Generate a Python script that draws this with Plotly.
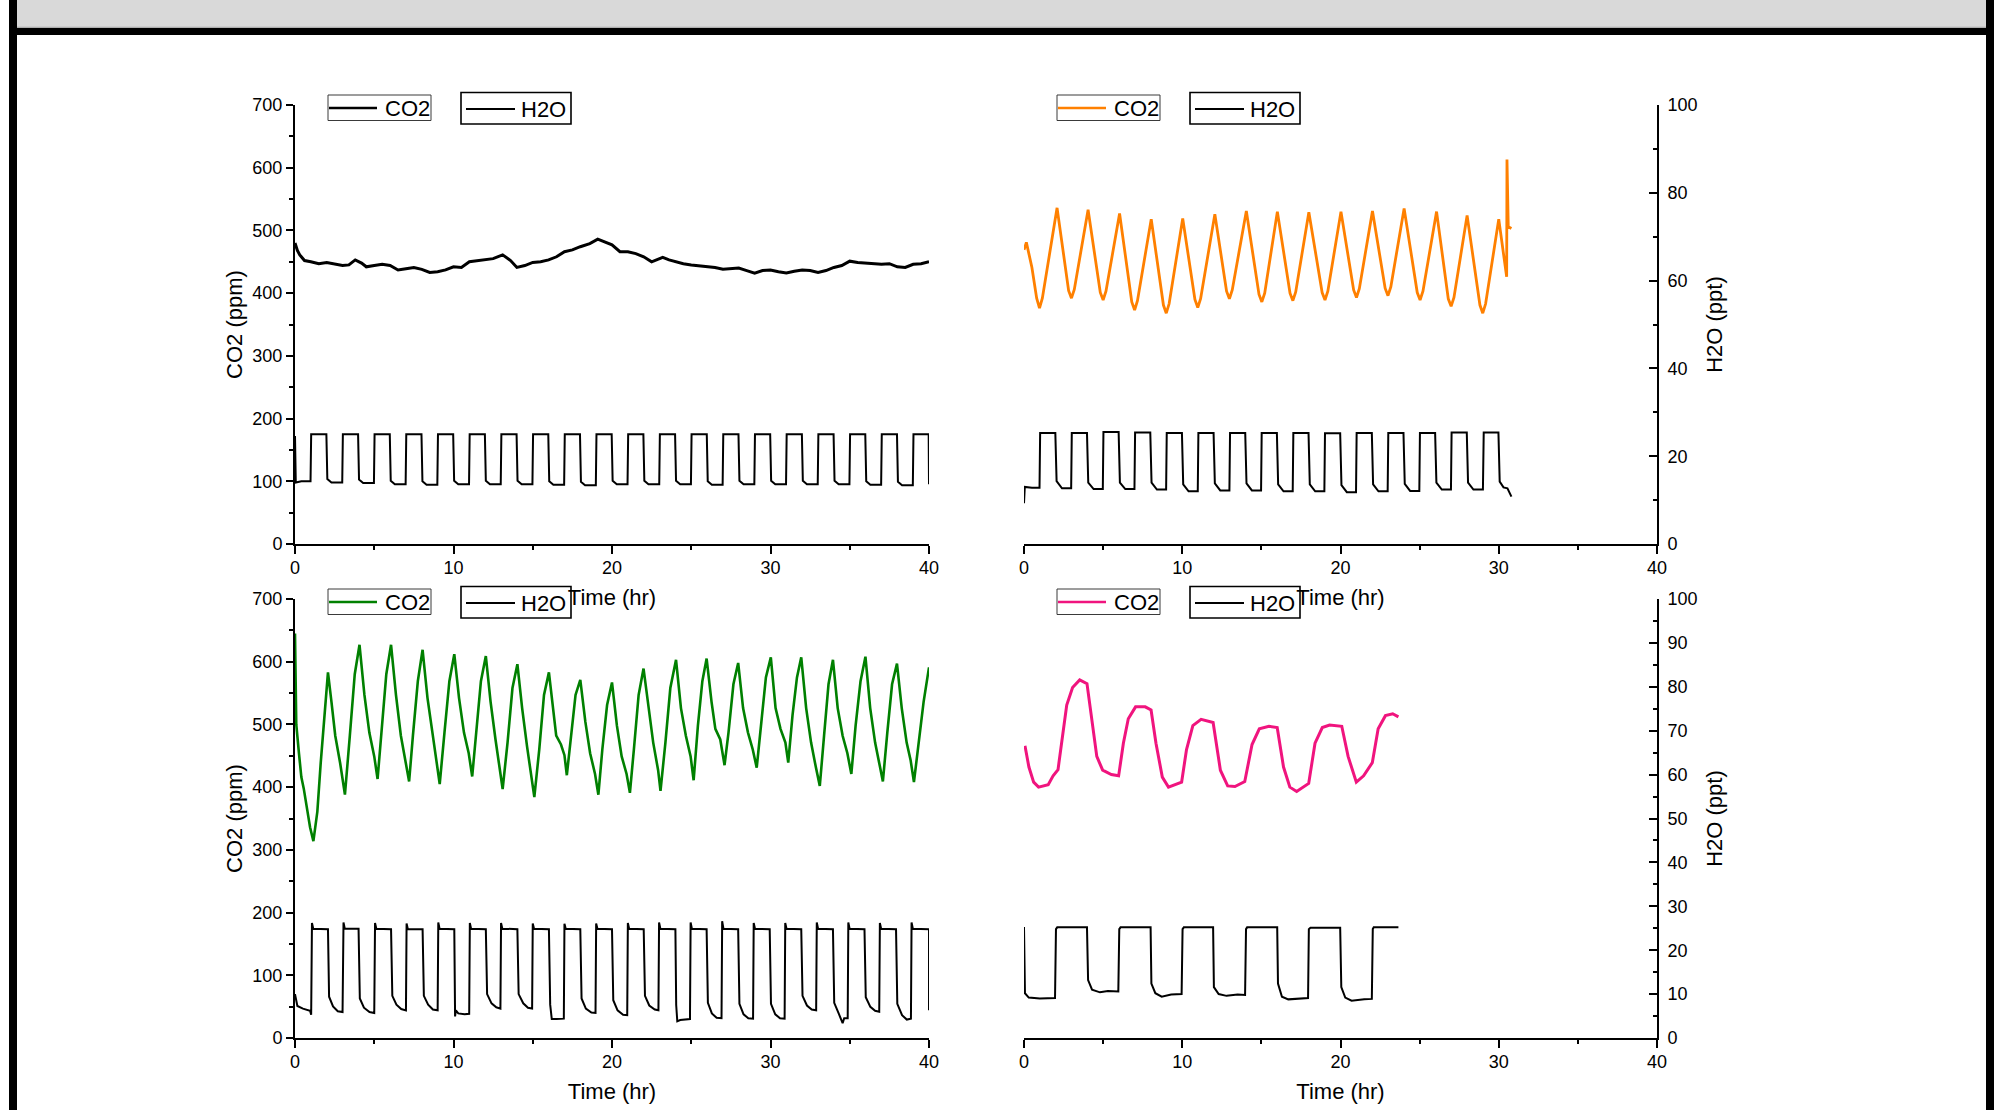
import plotly.graph_objects as go

W, H = 2010, 1110

# ---------------- tick labels ----------------
time_ticks = [0, 10, 20, 30, 40]
co2_ticks = [0, 100, 200, 300, 400, 500, 600, 700]
h2o_ticks_top = [0, 20, 40, 60, 80, 100]
h2o_ticks_bot = [0, 10, 20, 30, 40, 50, 60, 70, 80, 90, 100]

# ---------------- panel A (top-left) ----------------
a_co2_t = [0, 0.15, 0.3, 0.6, 1.0, 1.5, 2.0, 2.5, 3.0, 3.4, 3.8, 4.2, 4.5, 5.0, 5.5, 6.0, 6.5,
           7.0, 7.5, 8.0, 8.5, 9.0, 9.5, 10.0, 10.5, 11.0, 11.5, 12.0, 12.5, 13.1, 13.6, 14.0,
           14.5, 15.0, 15.5, 16.0, 16.5, 17.0, 17.5, 18.0, 18.6, 19.1, 19.6, 20.0, 20.5, 21.0,
           21.5, 22.0, 22.5, 23.2, 23.6, 24.0, 24.5, 25.0, 25.5, 26.0, 26.5, 27.0, 27.5, 28.0,
           28.5, 29.0, 29.5, 30.0, 30.5, 31.0, 31.5, 32.0, 32.5, 33.0, 33.5, 34.0, 34.5, 35.0,
           35.5, 36.0, 36.5, 37.0, 37.5, 38.0, 38.5, 39.0, 39.5, 40.0]
a_co2 = [480, 468, 461, 452, 450, 447, 449, 446, 444, 445, 453, 448, 442, 444, 446, 444, 437,
         439, 441, 438, 433, 434, 437, 442, 441, 450, 452, 454, 455, 461, 452, 441,
         444, 449, 450, 453, 458, 466, 469, 474, 479, 486, 481, 477, 466, 466,
         463, 458, 450, 457, 453, 450, 447, 445, 444, 443, 441, 438, 439, 440,
         436, 432, 436, 437, 434, 432, 435, 437, 436, 433, 436, 441, 444, 451,
         449, 448, 447, 446, 447, 442, 441, 446, 447, 450]

a_h2o_t = [0, 0.05, 0.4,
           0.98, 1.02, 1.98, 2.04, 2.3,
           2.98, 3.02, 3.98, 4.04, 4.3,
           4.98, 5.02, 5.98, 6.04, 6.3,
           6.98, 7.02, 7.98, 8.04, 8.3,
           8.98, 9.02, 9.98, 10.04, 10.3,
           10.98, 11.02, 11.98, 12.04, 12.3,
           12.98, 13.02, 13.98, 14.04, 14.3,
           14.98, 15.02, 15.98, 16.04, 16.3,
           16.98, 17.02, 17.98, 18.04, 18.3,
           18.98, 19.02, 19.98, 20.04, 20.3,
           20.98, 21.02, 21.98, 22.04, 22.3,
           22.98, 23.02, 23.98, 24.04, 24.3,
           24.98, 25.02, 25.98, 26.04, 26.3,
           26.98, 27.02, 27.98, 28.04, 28.3,
           28.98, 29.02, 29.98, 30.04, 30.3,
           30.98, 31.02, 31.98, 32.04, 32.3,
           32.98, 33.02, 33.98, 34.04, 34.3,
           34.98, 35.02, 35.98, 36.04, 36.3,
           36.98, 37.02, 37.98, 38.04, 38.3,
           38.98, 39.02, 39.98, 40.0]
a_h2o = [24.6, 14.0, 14.3,
         14.3, 25.0, 25.0, 14.8, 14.0,
         14.0, 25.0, 25.0, 14.7, 13.9,
         13.9, 25.0, 25.0, 14.4, 13.6,
         13.6, 25.0, 25.0, 14.3, 13.5,
         13.5, 25.0, 25.0, 14.4, 13.6,
         13.6, 25.0, 25.0, 14.4, 13.6,
         13.6, 25.0, 25.0, 14.4, 13.6,
         13.6, 25.0, 25.0, 14.3, 13.5,
         13.5, 25.0, 25.0, 14.2, 13.4,
         13.4, 25.0, 25.0, 14.4, 13.6,
         13.6, 25.0, 25.0, 14.4, 13.6,
         13.6, 25.0, 25.0, 14.4, 13.6,
         13.6, 25.0, 25.0, 14.3, 13.5,
         13.5, 25.0, 25.0, 14.4, 13.6,
         13.6, 25.0, 25.0, 14.4, 13.6,
         13.6, 25.0, 25.0, 14.4, 13.6,
         13.6, 25.0, 25.0, 14.4, 13.6,
         13.6, 25.0, 25.0, 14.3, 13.5,
         13.5, 25.0, 25.0, 14.2, 13.4,
         13.4, 25.0, 25.0, 13.6]

# ---------------- panel B (top-right) ----------------
b_co2_t = [0, 0.15, 0.5, 0.8, 0.98, 1.16, 2.09, 2.82, 3.0, 3.18, 4.05, 4.82, 5.0, 5.18,
           6.04, 6.81, 6.99, 7.17, 8.04, 8.81, 8.99, 9.17, 10.03, 10.8, 10.98, 11.16,
           12.06, 12.8, 12.98, 13.16, 14.05, 14.85, 15.03, 15.21, 16.01, 16.81, 16.99, 17.17,
           18.0, 18.84, 19.02, 19.2, 20.03, 20.83, 21.01, 21.19, 22.02, 22.82, 23.0, 23.18,
           24.02, 24.85, 25.03, 25.21, 26.07, 26.81, 26.99, 27.17, 28.0, 28.81, 28.99, 29.17,
           30.0, 30.5, 30.52, 30.6, 30.8]
b_co2 = [469, 481, 441, 392, 376, 392, 536, 404, 392, 406, 533, 401, 389, 403,
         527, 386, 373, 388, 518, 381, 368, 383, 519, 390, 377, 391,
         526, 403, 391, 405, 531, 398, 386, 400, 530, 400, 388, 402,
         529, 401, 389, 403, 530, 405, 393, 407, 531, 408, 396, 410,
         535, 401, 389, 403, 530, 391, 379, 393, 524, 381, 368, 383,
         518, 426, 613, 506, 503]

b_h2o_t = [0, 0.05, 0.5,
           0.98, 1.02, 1.98, 2.06, 2.4,
           2.98, 3.02, 3.98, 4.06, 4.4,
           4.98, 5.02, 5.98, 6.06, 6.4,
           6.98, 7.02, 7.98, 8.06, 8.4,
           8.98, 9.02, 9.98, 10.06, 10.4,
           10.98, 11.02, 11.98, 12.06, 12.4,
           12.98, 13.02, 13.98, 14.06, 14.4,
           14.98, 15.02, 15.98, 16.06, 16.4,
           16.98, 17.02, 17.98, 18.06, 18.4,
           18.98, 19.02, 19.98, 20.06, 20.4,
           20.98, 21.02, 21.98, 22.06, 22.4,
           22.98, 23.02, 23.98, 24.06, 24.4,
           24.98, 25.02, 25.98, 26.06, 26.4,
           26.98, 27.02, 27.98, 28.06, 28.4,
           29.0, 29.05, 29.98, 30.06, 30.3, 30.55, 30.8]
b_h2o = [9.3, 13.0, 12.8,
         12.8, 25.3, 25.3, 14.3, 12.7,
         12.7, 25.3, 25.3, 14.0, 12.5,
         12.5, 25.5, 25.5, 14.0, 12.5,
         12.5, 25.4, 25.4, 14.0, 12.4,
         12.4, 25.3, 25.3, 13.6, 12.0,
         12.0, 25.3, 25.3, 13.8, 12.2,
         12.2, 25.3, 25.3, 13.8, 12.2,
         12.2, 25.3, 25.3, 13.6, 12.0,
         12.0, 25.3, 25.3, 13.6, 12.0,
         12.0, 25.2, 25.2, 13.4, 11.8,
         11.8, 25.3, 25.3, 13.6, 12.0,
         12.0, 25.3, 25.3, 13.7, 12.1,
         12.1, 25.3, 25.3, 14.0, 12.4,
         12.4, 25.4, 25.4, 14.0, 12.4,
         12.4, 25.4, 25.4, 14.2, 12.9, 12.7, 10.8]

# ---------------- panel C (bottom-left) ----------------
c_co2_t = [0, 0.08, 0.25, 0.4, 0.55, 0.77, 0.95, 1.16, 1.41, 1.62, 1.87, 2.08, 2.30, 2.54, 2.85, 3.15,
           3.46, 3.77, 4.07, 4.38, 4.69, 5.0, 5.21, 5.45, 5.76, 6.06, 6.37, 6.68, 6.98, 7.2,
           7.44, 7.75, 8.05, 8.36, 8.67, 8.97, 9.13, 9.43, 9.74, 10.05, 10.35, 10.66, 10.96,
           11.18, 11.42, 11.73, 12.04, 12.34, 12.65, 12.89, 13.1, 13.41, 13.72, 14.03, 14.33,
           14.64, 14.89, 15.1, 15.41, 15.71, 16.02, 16.26, 16.48, 16.78, 17.0, 17.15, 17.4,
           17.7, 18.0, 18.32, 18.62, 18.93, 19.14, 19.39, 19.69, 20.0, 20.31, 20.61, 20.92,
           21.13, 21.38, 21.68, 21.99, 22.3, 22.6, 22.91, 23.06, 23.37, 23.68, 24.04, 24.35,
           24.66, 24.96, 25.15, 25.42, 25.7, 25.97, 26.28, 26.52, 26.83, 27.1, 27.35, 27.66,
           27.96, 28.27, 28.58, 28.88, 29.13, 29.4, 29.71, 30.02, 30.32, 30.63, 30.94, 31.12,
           31.39, 31.67, 31.94, 32.25, 32.56, 32.86, 33.11, 33.38, 33.66, 33.94, 34.24, 34.55,
           34.85, 35.1, 35.37, 35.68, 35.99, 36.29, 36.6, 36.91, 37.09, 37.37, 37.67, 37.98,
           38.28, 38.59, 38.84, 39.05, 39.29, 39.66, 40.0]
c_co2 = [645, 500, 454, 416, 398, 361, 336, 314, 361, 438, 515, 583, 536, 482, 438, 388,
         482, 580, 627, 547, 487, 449, 413, 487, 580, 627, 547, 482, 443, 409,
         482, 569, 619, 542, 487, 438, 405, 487, 569, 612, 542, 487, 454,
         417, 482, 569, 609, 536, 476, 432, 397, 471, 558, 596, 526,
         465, 421, 384, 460, 547, 583, 526, 482, 468, 451, 419, 482,
         547, 571, 504, 454, 421, 388, 460, 531, 567, 498, 449, 421,
         391, 460, 547, 589, 526, 471, 427, 394, 471, 558, 603, 526,
         482, 449, 411, 498, 569, 605, 536, 493, 476, 435, 487, 564,
         598, 526, 487, 460, 431, 504, 575, 607, 526, 493, 471, 439,
         515, 575, 607, 526, 471, 432, 402, 482, 564, 603, 526, 482,
         454, 421, 498, 569, 608, 526, 471, 432, 409, 487, 564, 597,
         526, 471, 443, 408, 460, 536, 591]

c_h2o_t = [0.0, 0.15, 0.5, 0.95, 1.02, 1.07, 1.15,
           2.08, 2.15, 2.4, 2.7, 3.0, 3.06, 3.14,
           4.01, 4.09, 4.35, 4.7, 5.0, 5.05, 5.13,
           6.06, 6.14, 6.4, 6.7, 7.0, 7.04, 7.12,
           8.05, 8.13, 8.4, 8.7, 9.0, 9.04, 9.12,
           10.05, 10.1, 10.15, 10.3, 10.7, 10.99, 11.03, 11.11,
           12.04, 12.12, 12.4, 12.7, 12.96, 13.0, 13.08,
           14.03, 14.11, 14.4, 14.7, 14.96, 15.0, 15.08,
           16.02, 16.1, 16.2, 16.5, 16.96, 17.0, 17.08,
           18.0, 18.08, 18.35, 18.7, 18.96, 19.0, 19.08,
           20.0, 20.08, 20.35, 20.7, 20.96, 21.0, 21.08,
           22.0, 22.08, 22.35, 22.7, 22.93, 22.97, 23.05,
           24.0, 24.05, 24.12, 24.3, 24.7, 24.92, 24.96, 25.04,
           25.97, 26.05, 26.3, 26.6, 26.91, 26.95, 27.03,
           27.96, 28.04, 28.3, 28.6, 28.9, 28.94, 29.02,
           29.95, 30.03, 30.3, 30.6, 30.89, 30.93, 31.01,
           31.94, 32.02, 32.3, 32.6, 32.88, 32.92, 33.0,
           33.94, 34.02, 34.3, 34.55, 34.65, 34.87, 34.91, 34.99,
           35.93, 36.01, 36.3, 36.6, 36.86, 36.9, 36.98,
           37.92, 38.0, 38.3, 38.6, 38.86, 38.9, 38.98,
           40.0, 40.0]
c_h2o = [10.0, 7.3, 6.7, 6.2, 5.3, 26.2, 24.9,
         24.8, 9.4, 7.2, 6.1, 5.9, 26.3, 24.9,
         24.9, 9.0, 6.9, 5.9, 5.7, 26.2, 24.9,
         24.8, 9.6, 7.6, 6.6, 6.3, 26.1, 24.8,
         24.8, 9.6, 7.6, 6.5, 6.3, 26.3, 24.9,
         24.8, 4.9, 6.3, 5.6, 5.4, 5.5, 26.2, 24.9,
         24.8, 10.0, 7.9, 7.0, 6.7, 26.2, 24.9,
         24.8, 10.0, 7.9, 6.9, 6.7, 26.1, 24.9,
         24.8, 7.6, 4.3, 4.3, 4.4, 26.0, 24.9,
         24.8, 9.0, 6.7, 5.8, 5.7, 26.1, 24.9,
         24.8, 8.6, 6.3, 5.3, 5.2, 26.2, 24.9,
         24.8, 9.6, 7.4, 6.5, 6.3, 26.3, 24.9,
         24.8, 7.5, 3.8, 4.1, 4.2, 4.3, 26.3, 24.9,
         24.8, 8.0, 5.6, 4.6, 4.5, 26.6, 24.9,
         24.8, 7.8, 5.4, 4.5, 4.4, 26.2, 24.9,
         24.8, 7.8, 5.4, 4.5, 4.4, 26.2, 24.9,
         24.8, 9.6, 7.4, 6.5, 6.3, 26.3, 24.9,
         24.8, 8.0, 5.6, 3.4, 4.5, 4.5, 26.3, 24.9,
         24.8, 9.3, 7.1, 6.2, 6.0, 26.2, 24.9,
         24.8, 7.8, 5.2, 4.2, 4.4, 26.3, 24.9,
         24.8, 6.3]

# ---------------- panel D (bottom-right) ----------------
d_co2_t = [0.06, 0.31, 0.61, 0.92, 1.53, 1.84, 2.15, 2.39, 2.70, 3.07, 3.52, 3.98, 4.29, 4.6,
           4.97, 5.52, 5.98, 6.28, 6.59, 7.05, 7.66, 8.03, 8.34, 8.74, 9.13, 9.5, 9.96, 10.27,
           10.67, 11.19, 11.95, 12.41, 12.87, 13.33, 13.95, 14.41, 14.87, 15.48, 16.0, 16.4,
           16.8, 17.23, 17.62, 17.99, 18.39, 18.85, 19.31, 20.08, 20.48, 21.0, 21.46, 22.01,
           22.38, 22.84, 23.3, 23.66]
d_co2 = [466, 432, 408, 400, 404, 418, 428, 470, 531, 559, 571, 565, 509, 449,
         427, 420, 418, 470, 509, 528, 528, 523, 470, 416, 400, 404, 408, 460,
         498, 508, 503, 427, 402, 401, 409, 468, 493, 497, 495, 432,
         400, 393, 399, 406, 470, 495, 499, 497, 449, 408, 418, 439,
         493, 514, 517, 512]

d_h2o_t = [0.0, 0.06, 0.3, 1.0, 1.96, 2.02, 2.1,
           3.98, 4.05, 4.3, 4.8, 5.3, 5.96, 6.02, 6.1,
           8.0, 8.05, 8.3, 8.7, 9.3, 9.96, 10.02, 10.1,
           11.95, 12.0, 12.3, 12.8, 13.5, 13.97, 14.03, 14.1,
           16.0, 16.05, 16.3, 16.7, 17.9, 17.95, 18.0, 18.1,
           19.98, 20.05, 20.3, 20.7, 21.5, 21.98, 22.04, 22.1,
           23.66]
d_h2o = [25.3, 10.2, 9.2, 9.0, 9.1, 24.8, 25.2,
         25.2, 13.2, 11.0, 10.4, 10.7, 10.6, 24.8, 25.2,
         25.2, 12.4, 10.2, 9.4, 9.9, 10.0, 24.8, 25.2,
         25.2, 11.6, 10.0, 9.6, 9.9, 9.8, 24.8, 25.2,
         25.2, 12.4, 9.4, 8.8, 9.0, 9.1, 24.8, 25.1,
         25.1, 11.6, 9.2, 8.5, 8.8, 8.9, 24.8, 25.2,
         25.2]

for xs, ys in [(a_co2_t, a_co2), (a_h2o_t, a_h2o), (b_co2_t, b_co2), (b_h2o_t, b_h2o),
               (c_co2_t, c_co2), (c_h2o_t, c_h2o), (d_co2_t, d_co2), (d_h2o_t, d_h2o)]:
    assert len(xs) == len(ys), (len(xs), len(ys))

# ---------------- styling / layout ----------------
FONT = "Arial, Liberation Sans, sans-serif"
C_ORANGE = "#ff8000"
C_GREEN = "#008000"
C_PINK = "#f0147e"


def px(x):  # page pixel -> paper x
    return x / W


def py(y):  # page pixel -> paper y
    return 1 - y / H


LEFT_X = [px(295), px(929)]
RIGHT_X = [px(1024), px(1657)]
TOP_Y = [py(544), py(105)]
BOT_Y = [py(1038), py(599)]

fig = go.Figure()


def add_line(x, y, xa, ya, color, width):
    fig.add_trace(go.Scatter(x=x, y=y, xaxis=xa, yaxis=ya, mode="lines",
                             line=dict(color=color, width=width),
                             showlegend=False, hoverinfo="skip"))


add_line(a_co2_t, a_co2, "x", "y", "black", 3)
add_line(a_h2o_t, a_h2o, "x", "y2", "black", 2)
add_line(b_co2_t, b_co2, "x2", "y3", C_ORANGE, 2.8)
add_line(b_h2o_t, b_h2o, "x2", "y4", "black", 2)
add_line(c_co2_t, c_co2, "x3", "y5", C_GREEN, 2.6)
add_line(c_h2o_t, c_h2o, "x3", "y6", "black", 2)
add_line(d_co2_t, d_co2, "x4", "y7", C_PINK, 3)
add_line(d_h2o_t, d_h2o, "x4", "y8", "black", 2)

tickfont = dict(family=FONT, size=18, color="black")
titlefont = dict(family=FONT, size=22, color="black")


def xaxis(domain, anchor):
    return dict(domain=domain, anchor=anchor, range=[0, 40], tickvals=time_ticks,
                automargin=False, ticklabelstandoff=-2,
                showline=True, linecolor="black", linewidth=2, ticks="outside",
                ticklen=8, tickwidth=2, tickcolor="black", tickfont=tickfont,
                showgrid=False, zeroline=False,
                minor=dict(ticks="outside", ticklen=4, tickwidth=2, tickcolor="black",
                           dtick=5, tick0=0, showgrid=False),
                title=dict(text="Time (hr)", font=titlefont, standoff=13))


def co2_axis(domain, anchor, visible):
    d = dict(domain=domain, anchor=anchor, range=[0, 700], showgrid=False, zeroline=False,
             automargin=False)
    if not visible:
        d.update(visible=False)
        return d
    d.update(tickvals=co2_ticks, showline=True, linecolor="black", linewidth=2,
             ticks="outside", ticklen=7, tickwidth=2, tickcolor="black", tickfont=tickfont,
             minor=dict(ticks="outside", ticklen=4, tickwidth=2, tickcolor="black",
                        dtick=50, tick0=0, showgrid=False),
             title=dict(text="CO2 (ppm)", font=titlefont, standoff=4))
    return d


def h2o_axis(over, anchor, visible, ticks_list, minor_dtick):
    d = dict(overlaying=over, side="right", anchor=anchor, range=[0, 100],
             showgrid=False, zeroline=False, automargin=False)
    if not visible:
        d.update(visible=False)
        return d
    d.update(tickvals=ticks_list, showline=True, linecolor="black", linewidth=2,
             ticks="inside", ticklen=8, tickwidth=2, tickcolor="black", tickfont=tickfont,
             ticklabelstandoff=5,
             minor=dict(ticks="inside", ticklen=4, tickwidth=2, tickcolor="black",
                        dtick=minor_dtick, tick0=0, showgrid=False),
             title=dict(text="H2O (ppt)", font=titlefont, standoff=10))
    return d


fig.update_layout(
    width=W, height=H, margin=dict(l=0, r=0, t=0, b=0, pad=0, autoexpand=False),
    paper_bgcolor="white", plot_bgcolor="rgba(0,0,0,0)",
    showlegend=False,
    font=dict(family=FONT, color="black"),
    xaxis=xaxis(LEFT_X, "y"),
    yaxis=co2_axis(TOP_Y, "x", True),
    yaxis2=h2o_axis("y", "x", False, h2o_ticks_top, 10),
    xaxis2=xaxis(RIGHT_X, "y3"),
    yaxis3=co2_axis(TOP_Y, "x2", False),
    yaxis4=h2o_axis("y3", "x2", True, h2o_ticks_top, 10),
    xaxis3=xaxis(LEFT_X, "y5"),
    yaxis5=co2_axis(BOT_Y, "x3", True),
    yaxis6=h2o_axis("y5", "x3", False, h2o_ticks_bot, 5),
    xaxis4=xaxis(RIGHT_X, "y7"),
    yaxis7=co2_axis(BOT_Y, "x4", False),
    yaxis8=h2o_axis("y7", "x4", True, h2o_ticks_bot, 5),
)

shapes = []
annotations = []


def rect(x0, y0, x1, y1, fill=None, line_color=None, line_width=0):
    shapes.append(dict(type="rect", xref="paper", yref="paper",
                       x0=px(x0), x1=px(x1), y0=py(y1), y1=py(y0),
                       fillcolor=fill if fill else "rgba(0,0,0,0)",
                       line=dict(color=line_color if line_color else "rgba(0,0,0,0)",
                                 width=line_width),
                       layer="above"))


def hline(x0, x1, y, color, width):
    shapes.append(dict(type="line", xref="paper", yref="paper",
                       x0=px(x0), x1=px(x1), y0=py(y), y1=py(y),
                       line=dict(color=color, width=width), layer="above"))


# window frame (page pixel coordinates)
rect(17, 0, 1986, 27, fill="#d9d9d9")
hline(17, 1986, 27.3, "#9a9a9a", 1)
rect(9, 28, 1994, 35, fill="black")
rect(9, 0, 17, H, fill="black")
rect(1986, 0, 1994, H, fill="black")

# per-panel two-box legends
for (L, T, ccol) in [(295, 105, "black"), (1024, 105, C_ORANGE),
                     (295, 599, C_GREEN), (1024, 599, C_PINK)]:
    rect(L + 33, T - 10, L + 136, T + 15.5, line_color="#3a3a3a", line_width=1)
    hline(L + 34, L + 82, T + 3, ccol, 2.6)
    annotations.append(dict(xref="paper", yref="paper", x=px(L + 88), y=py(T + 3),
                            xanchor="left", yanchor="middle", showarrow=False,
                            text="CO2", font=dict(family=FONT, size=22, color="black")))
    rect(L + 166, T - 12.5, L + 276, T + 19, line_color="black", line_width=1.6)
    hline(L + 171, L + 220, T + 4, "black", 2.2)
    annotations.append(dict(xref="paper", yref="paper", x=px(L + 224), y=py(T + 4),
                            xanchor="left", yanchor="middle", showarrow=False,
                            text="H2O", font=dict(family=FONT, size=22, color="black")))

fig.update_layout(shapes=shapes, annotations=annotations)

fig.write_html("out.html", config={"displayModeBar": False},
               post_script="document.body.style.margin='0';document.body.style.overflow='hidden';")
